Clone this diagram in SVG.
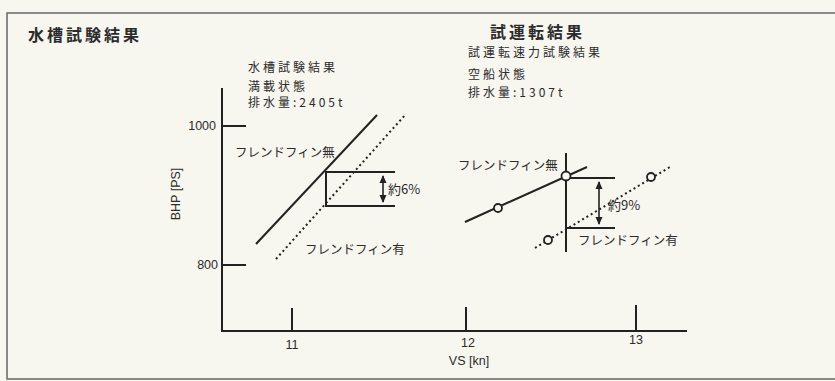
<svg xmlns="http://www.w3.org/2000/svg" width="835" height="381" viewBox="0 0 835 381">
<defs>
<style>
.t{font-family:"Noto Sans CJK JP","Noto Sans",sans-serif;fill:#2b2b2b}
.h{font-size:16px;font-weight:bold;letter-spacing:3px}
.s{font-size:12px;letter-spacing:3px}
.n{font-family:"Liberation Sans",Arial,sans-serif;font-size:12.5px;fill:#2b2b2b}
.ln{stroke:#222;stroke-width:2;fill:none}
.dt{stroke:#222;stroke-width:2;fill:none;stroke-dasharray:2 3}
.thin{stroke:#222;stroke-width:1.6;fill:none}
.pt{fill:#f7f6ef;stroke:#222;stroke-width:1.8}
.frame{stroke:#666;stroke-width:1.5;fill:none}
</style>
<marker id="ah" markerWidth="8" markerHeight="8" refX="7" refY="4" orient="auto-start-reverse" markerUnits="userSpaceOnUse">
<path d="M0,0.5 L8,4 L0,7.5 Z" fill="#222"/>
</marker>
</defs>
<rect width="835" height="381" fill="#f7f6ef"/>
<g id="frame">
<path class="frame" d="M835,13 L7,13 L7,379 L835,379"/>
</g>
<g id="titles">
<text class="t h" x="28" y="41">水槽試験結果</text>
<text class="t h" x="490" y="38">試運転結果</text>
<text class="t s" x="248" y="72">水槽試験結果</text>
<text class="t s" x="248" y="91">満載状態</text>
<text class="t s" x="248" y="107">排水量:2405t</text>
<text class="t s" x="468" y="57">試運転速力試験結果</text>
<text class="t s" x="468" y="79">空船状態</text>
<text class="t s" x="468" y="97">排水量:1307t</text>
</g>
<g id="axes">
<path class="ln" d="M222,88 L222,331 L687,331"/>
<path class="ln" d="M222,126 L246,126 M222,265 L246,265"/>
<path class="ln" d="M292,308 L292,331 M466,307 L466,331 M636,305 L636,331"/>
<text class="n" x="216" y="130" text-anchor="end">1000</text>
<text class="n" x="218" y="269" text-anchor="end">800</text>
<text class="n" x="292" y="349" text-anchor="middle">11</text>
<text class="n" x="468" y="347" text-anchor="middle">12</text>
<text class="n" x="636" y="344" text-anchor="middle">13</text>
<text class="n" x="469" y="365" text-anchor="middle" font-size="14">VS [kn]</text>
<text class="n" x="0" y="0" text-anchor="middle" font-size="14" transform="translate(180,194) rotate(-90)">BHP [PS]</text>
</g>
<g id="tank-chart">
<path class="ln" d="M256,244 L377,115"/>
<path class="dt" d="M276,259 L406,114"/>
<path class="ln" d="M395,172 L326,172 L326,206 L395,206"/>
<path class="thin" d="M383,176 L383,202" marker-start="url(#ah)" marker-end="url(#ah)"/>
<text class="t" x="388" y="194" font-size="13">約6%</text>
<text class="t" x="235" y="157" font-size="12.5">フレンドフィン無</text>
<text class="t" x="305" y="254" font-size="12.5">フレンドフィン有</text>
</g>
<g id="trial-chart">
<path class="ln" d="M465,222 L587,167"/>
<path class="ln" d="M566,153 L566,252"/>
<path class="ln" d="M566,178 L615,178 M566,228 L615,228"/>
<path class="dt" d="M535,248 L670,167"/>
<path class="thin" d="M599,182 L599,224" marker-start="url(#ah)" marker-end="url(#ah)"/>
<circle class="pt" cx="498" cy="208" r="4"/>
<circle class="pt" cx="566" cy="176" r="4.5"/>
<circle class="pt" cx="548" cy="240" r="4"/>
<circle class="pt" cx="651" cy="177" r="4"/>
<text class="t" x="608" y="210" font-size="13">約9%</text>
<text class="t" x="458" y="170" font-size="12.5">フレンドフィン無</text>
<text class="t" x="578" y="245" font-size="12.5">フレンドフィン有</text>
</g>
</svg>
